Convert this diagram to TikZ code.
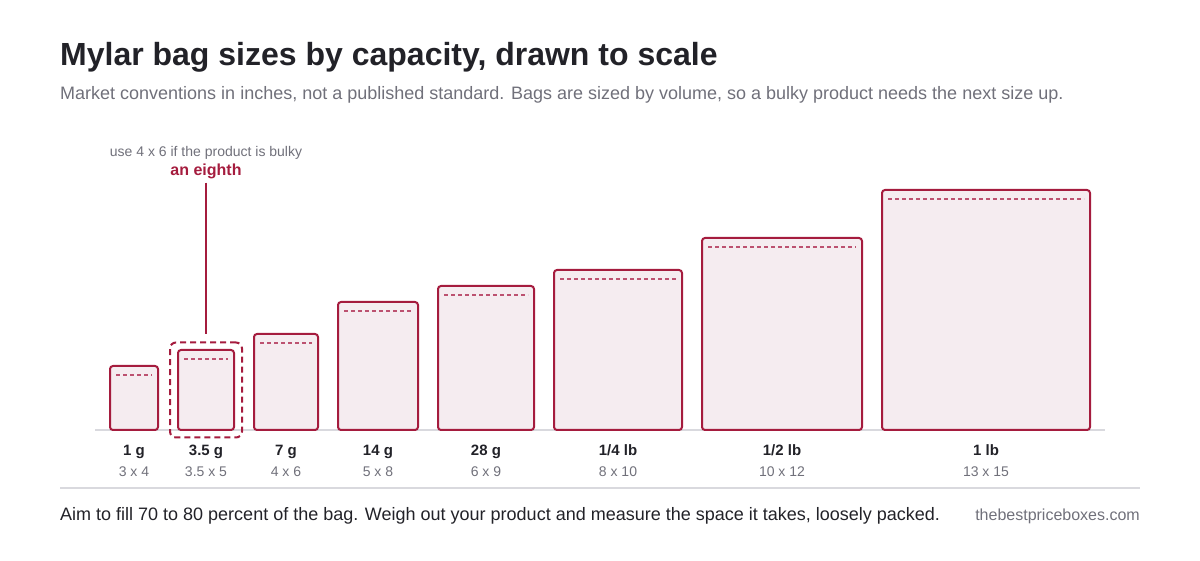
\documentclass[tikz,border=0pt]{standalone}
\usepackage{fontspec}
\setmainfont{Liberation Sans}
\usepackage{xcolor}
\usetikzlibrary{calc, fit, positioning}
\definecolor{bagred}{HTML}{A51C3E}
\definecolor{bagfill}{HTML}{F5ECF0}
\definecolor{seamred}{HTML}{BC5170}
\definecolor{inkdark}{HTML}{222228}
\definecolor{inkgrey}{HTML}{70707A}
\definecolor{rulegrey}{HTML}{D9D9DE}
\tikzset{
    bagnode/.style = {draw=bagred, fill=bagfill, rectangle, line width=2pt, rounded corners=3pt,
      inner sep=0pt, outer sep=0pt, anchor=south west},
    seamline/.style = {seamred, line width=1.6pt, dash pattern=on 4pt off 3pt},
    weightnode/.style = {draw=none, inner sep=0pt, font=\fontsize{15}{17}\selectfont\bfseries, text=inkdark},
    dimnode/.style = {draw=none, inner sep=0pt, font=\fontsize{14}{16}\selectfont, text=inkgrey},
    textnode/.style = {draw=none, inner sep=0pt, anchor=base west},
    rulenode/.style = {rulegrey, line width=2pt}
}
\newcommand{\seam}[1]{\draw[seamline] ([xshift=6pt,yshift=-9pt]#1.north west) -- ([xshift=-6pt,yshift=-9pt]#1.north east);}

\begin{document}
\begin{tikzpicture}[x=1pt, y=1pt]
    \useasboundingbox (0,0) rectangle (1200,560);

    % header
    \node [name=title, textnode, font=\fontsize{32}{36}\selectfont\bfseries, text=inkdark] at (60,494)
        {Mylar bag sizes by capacity, drawn to scale};
    \node [name=subtitle, textnode, font=\fontsize{18}{21}\selectfont, text=inkgrey] at (60,460)
        {Market conventions in inches, not a published standard. Bags are sized by volume, so a bulky product needs the next size up.};

    % ground line
    \coordinate (ground0) at (95,130);
    \coordinate (ground1) at (1105,130);
    \draw [rulenode] (ground0) -- (ground1);

    % bags, 16pt per inch
    \node [name=bag1, bagnode, minimum width=48pt, minimum height=64pt] at (110,130) {};
    \node [name=bag2, bagnode, minimum width=56pt, minimum height=80pt] at (178,130) {};
    \node [name=bag3, bagnode, minimum width=64pt, minimum height=96pt] at (254,130) {};
    \node [name=bag4, bagnode, minimum width=80pt, minimum height=128pt] at (338,130) {};
    \node [name=bag5, bagnode, minimum width=96pt, minimum height=144pt] at (438,130) {};
    \node [name=bag6, bagnode, minimum width=128pt, minimum height=160pt] at (554,130) {};
    \node [name=bag7, bagnode, minimum width=160pt, minimum height=192pt] at (702,130) {};
    \node [name=bag8, bagnode, minimum width=208pt, minimum height=240pt] at (882,130) {};

    \seam{bag1} \seam{bag2} \seam{bag3} \seam{bag4}
    \seam{bag5} \seam{bag6} \seam{bag7} \seam{bag8}

    % labels
    \node [name=w1, weightnode, below=26pt of bag1.south, anchor=base] {1 g};
    \node [name=w2, weightnode, below=26pt of bag2.south, anchor=base] {3.5 g};
    \node [name=w3, weightnode, below=26pt of bag3.south, anchor=base] {7 g};
    \node [name=w4, weightnode, below=26pt of bag4.south, anchor=base] {14 g};
    \node [name=w5, weightnode, below=26pt of bag5.south, anchor=base] {28 g};
    \node [name=w6, weightnode, below=26pt of bag6.south, anchor=base] {1/4 lb};
    \node [name=w7, weightnode, below=26pt of bag7.south, anchor=base] {1/2 lb};
    \node [name=w8, weightnode, below=26pt of bag8.south, anchor=base] {1 lb};

    \node [name=d1, dimnode, below=47pt of bag1.south, anchor=base] {3 x 4};
    \node [name=d2, dimnode, below=47pt of bag2.south, anchor=base] {3.5 x 5};
    \node [name=d3, dimnode, below=47pt of bag3.south, anchor=base] {4 x 6};
    \node [name=d4, dimnode, below=47pt of bag4.south, anchor=base] {5 x 8};
    \node [name=d5, dimnode, below=47pt of bag5.south, anchor=base] {6 x 9};
    \node [name=d6, dimnode, below=47pt of bag6.south, anchor=base] {8 x 10};
    \node [name=d7, dimnode, below=47pt of bag7.south, anchor=base] {10 x 12};
    \node [name=d8, dimnode, below=47pt of bag8.south, anchor=base] {13 x 15};

    % the eighth
    \node [name=pick, fit=(bag2), inner xsep=8pt, inner ysep=7.5pt, draw=bagred, line width=2pt,
        dash pattern=on 6pt off 4pt, rounded corners=6pt] {};
    \node [name=eighth, weightnode, font=\fontsize{16}{18}\selectfont\bfseries, text=bagred, anchor=base]
        at (206,384) {an eighth};
    \node [name=bulky, dimnode, font=\fontsize{14}{16}\selectfont, anchor=base] at (206,403)
        {use 4 x 6 if the product is bulky};
    \draw [bagred, line width=1.5pt, shorten <=3pt, shorten >=7pt] (eighth.south) -- (pick.north);

    % footer
    \coordinate (foot0) at (60,72);
    \coordinate (foot1) at (1140,72);
    \draw [rulenode] (foot0) -- (foot1);
    \node [name=note, textnode, font=\fontsize{18}{21}\selectfont, text=inkdark] at (60,40)
        {Aim to fill 70 to 80 percent of the bag. Weigh out your product and measure the space it takes, loosely packed.};
    \node [name=site, textnode, anchor=base east, font=\fontsize{16}{19}\selectfont, text=inkgrey] at (1140,40)
        {thebestpriceboxes.com};
\end{tikzpicture}
\end{document}
